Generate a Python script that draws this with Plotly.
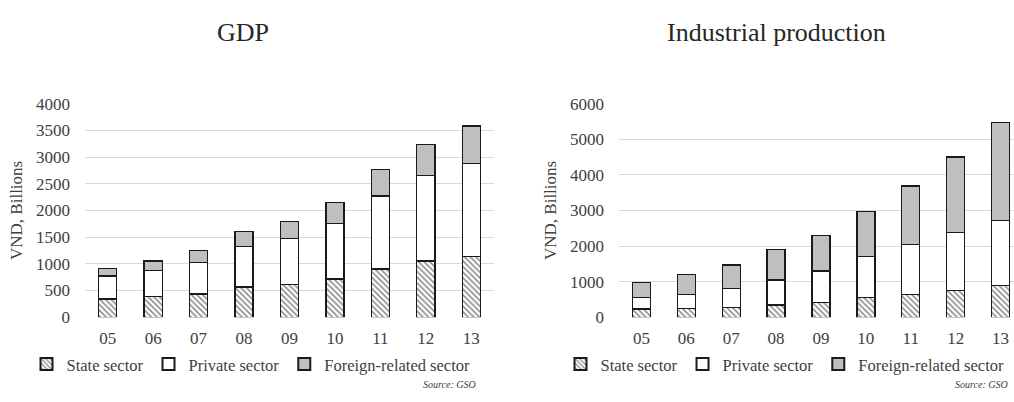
import plotly.graph_objects as go
from plotly.subplots import make_subplots

years = ["05", "06", "07", "08", "09", "10", "11", "12", "13"]

gdp_state = [339, 386, 434, 565, 613, 714, 904, 1054, 1143]
gdp_private = [434, 495, 589, 757, 862, 1047, 1364, 1595, 1732]
gdp_foreign = [138, 173, 220, 285, 322, 388, 500, 589, 703]

ind_state = [229, 240, 272, 339, 420, 563, 636, 752, 886]
ind_private = [316, 405, 528, 706, 875, 1144, 1405, 1620, 1827]
ind_foreign = [428, 545, 663, 848, 1000, 1253, 1647, 2131, 2757]

sector_names = ["State sector", "Private sector", "Foreign-related sector"]

FONT = "Liberation Serif"
W, H = 1014, 402


def px(x):
    return x / W


def py(y):
    return 1 - y / H


fig = make_subplots(rows=1, cols=2)


def add_stack(col, state, private, foreign, legend):
    line = dict(color="#1a1a1a", width=1.3)
    fig.add_trace(go.Bar(
        x=years, y=state, name=sector_names[0], legend=legend,
        marker=dict(color="white", line=line,
                    pattern=dict(shape="\\", fgcolor="#1a1a1a", bgcolor="white",
                                 size=4, solidity=0.4)),
    ), row=1, col=col)
    fig.add_trace(go.Bar(
        x=years, y=private, name=sector_names[1], legend=legend,
        marker=dict(color="white", line=line),
    ), row=1, col=col)
    fig.add_trace(go.Bar(
        x=years, y=foreign, name=sector_names[2], legend=legend,
        marker=dict(color="#bfbfbf", line=line),
    ), row=1, col=col)


add_stack(1, gdp_state, gdp_private, gdp_foreign, "legend")
add_stack(2, ind_state, ind_private, ind_foreign, "legend2")

axis_font = dict(family=FONT, size=17, color="#404040")

fig.update_xaxes(showgrid=False, zeroline=False, showline=False, ticks="",
                 tickfont=axis_font, ticklabelstandoff=9)
fig.update_xaxes(domain=[px(85), px(494)], range=[-0.5, 8.5], row=1, col=1)
fig.update_xaxes(domain=[px(619), 1.0], range=[-0.5, 8.3], row=1, col=2)

fig.update_yaxes(showgrid=True, gridcolor="#d9d9d9", gridwidth=1, zeroline=False,
                 showline=False, ticks="", tickfont=axis_font, ticklabelstandoff=14,
                 domain=[py(323.5), py(99.3)],
                 title=dict(text="VND, Billions", font=dict(family=FONT, size=17, color="#404040"),
                            standoff=9))
fig.update_yaxes(range=[0, 4000], dtick=500, row=1, col=1)
fig.update_yaxes(range=[0, 6000], dtick=1000, row=1, col=2)

title_font = dict(family=FONT, size=26, color="#262626")
src_font = dict(family=FONT, size=10, color="#404040", style="italic")
annotations = [
    dict(text="GDP", x=px(243), y=py(25), font=title_font),
    dict(text="Industrial production", x=px(776), y=py(25), font=title_font),
    dict(text="Source: GSO", x=px(478), y=py(394), xanchor="right", font=src_font),
    dict(text="Source: GSO", x=px(1010), y=py(394), xanchor="right", font=src_font),
]
for a in annotations:
    a.update(xref="paper", yref="paper", showarrow=False, yanchor="middle")
    a.setdefault("xanchor", "center")

legend_style = dict(orientation="h", yref="paper", y=py(373), yanchor="middle",
                    xanchor="center", font=dict(family=FONT, size=16.5, color="#404040"),
                    bgcolor="rgba(0,0,0,0)", traceorder="normal", itemsizing="constant")

fig.update_layout(
    width=W, height=H,
    template="plotly_white",
    barmode="stack",
    bargap=0.6,
    showlegend=True,
    margin=dict(l=0, r=0, t=0, b=0),
    plot_bgcolor="white",
    paper_bgcolor="white",
    font=dict(family=FONT),
    annotations=annotations,
    legend=dict(x=px(251), **legend_style),
    legend2=dict(x=px(785), **legend_style),
)

# drop the default body margin so the page is exactly the figure size
fig.write_html("out.html", config={"displayModeBar": False},
               post_script="document.body.style.margin='0';")
